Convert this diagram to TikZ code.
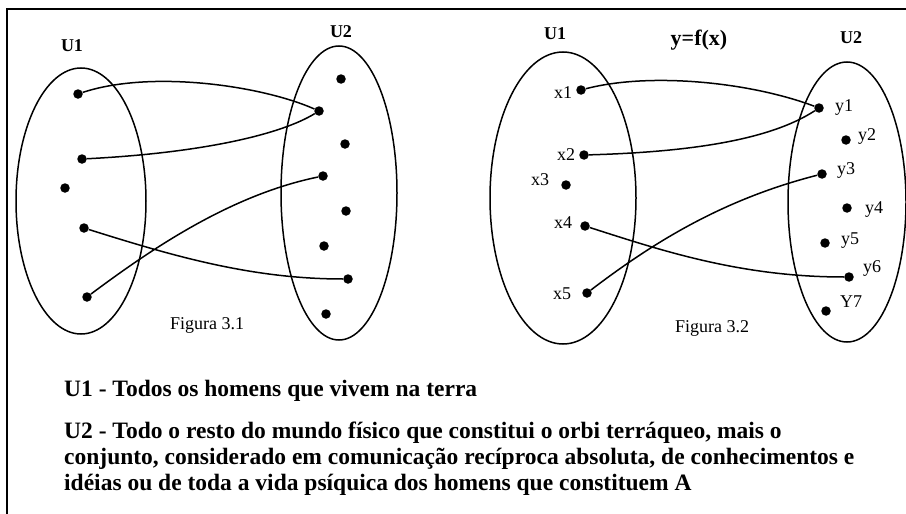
\documentclass[tikz,border=0pt]{standalone}
\usepackage{fontspec}
\setmainfont{Liberation Serif}
\usetikzlibrary{shapes.geometric}

\tikzset{
  dot/.style={circle,fill,inner sep=0pt,minimum size=9.5pt},
  set/.style={draw,ellipse,line width=1.5pt,inner sep=0pt},
  conn/.style={draw,line width=1.5pt},
  setname/.style={font=\fontsize{18}{20}\selectfont\bfseries},
  elem/.style={font=\fontsize{18}{20}\selectfont,inner sep=0pt},
  legend/.style={font=\fontsize{23.5}{26}\selectfont\bfseries,inner sep=0pt,align=left},
}

\begin{document}
\begin{tikzpicture}[x=1pt,y=-1pt]

  \useasboundingbox (0,0) rectangle (906,514);
  \draw [line width=2.2pt] (7,514) -- (7,9) -- (906,9);

  % Figura 3.1
  \node [setname] (A_name) at (72,46) {U1};
  \node [setname] (B_name) at (341,32) {U2};
  \node [set,minimum width=130pt,minimum height=266pt] (A) at (81,201) {};
  \node [set,minimum width=116pt,minimum height=294pt] (B) at (339,193) {};

  \node [dot] (A_1) at (78,94) {};
  \node [dot] (A_2) at (82,159) {};
  \node [dot] (A_3) at (65,188) {};
  \node [dot] (A_4) at (84,228) {};
  \node [dot] (A_5) at (87,297) {};

  \node [dot] (B_1) at (341,79) {};
  \node [dot] (B_2) at (319,111) {};
  \node [dot] (B_3) at (345,144) {};
  \node [dot] (B_4) at (323,176) {};
  \node [dot] (B_5) at (346,211) {};
  \node [dot] (B_6) at (324,246) {};
  \node [dot] (B_7) at (348,279) {};
  \node [dot] (B_8) at (326,314) {};

  \node [elem] (A_fig) at (207,325) {Figura 3.1};

  \path [conn]
    (A_1) .. controls (150,70) and (260,85) .. (B_2)
    (A_2) .. controls (200,153) and (280,135) .. (B_2)
    (A_5) .. controls (150,250) and (230,195) .. (B_4)
    (A_4) .. controls (170,255) and (250,279) .. (B_7);

  % Figura 3.2
  \node [setname] (X_name) at (555,34) {U1};
  \node [setname,font=\fontsize{22}{24}\selectfont\bfseries] (f_name) at (699,40) {y=f(x)};
  \node [setname] (Y_name) at (851,38) {U2};
  \node [set,minimum width=146pt,minimum height=292pt] (X) at (563,198) {};
  \node [set,minimum width=118pt,minimum height=280pt] (Y) at (847,202) {};

  \node [dot] (x1) at (581,90) {};
  \node [dot] (x2) at (584,155) {};
  \node [dot] (x3) at (566,185) {};
  \node [dot] (x4) at (585,226) {};
  \node [dot] (x5) at (587,293) {};
  \node [elem] (x1_lbl) at (563,93) {x1};
  \node [elem] (x2_lbl) at (566,155) {x2};
  \node [elem] (x3_lbl) at (540,180) {x3};
  \node [elem] (x4_lbl) at (563,223) {x4};
  \node [elem] (x5_lbl) at (562,294) {x5};

  \node [dot] (y1) at (819,108) {};
  \node [dot] (y2) at (846,140) {};
  \node [dot] (y3) at (822,174) {};
  \node [dot] (y4) at (847,208) {};
  \node [dot] (y5) at (825,243) {};
  \node [dot] (y6) at (849,277) {};
  \node [dot] (y7) at (826,311) {};
  \node [elem] (y1_lbl) at (844,107) {y1};
  \node [elem] (y2_lbl) at (867,136) {y2};
  \node [elem] (y3_lbl) at (846,170) {y3};
  \node [elem] (y4_lbl) at (874,210) {y4};
  \node [elem] (y5_lbl) at (850,241) {y5};
  \node [elem] (y6_lbl) at (872,268) {y6};
  \node [elem] (y7_lbl) at (851,302) {Y7};

  \node [elem] (X_fig) at (712,328) {Figura 3.2};

  \path [conn]
    (x1) .. controls (650,72) and (750,82) .. (y1)
    (x2) .. controls (690,152) and (770,140) .. (y1)
    (x5) .. controls (650,245) and (720,200) .. (y3)
    (x4) .. controls (660,250) and (740,277) .. (y6);

  % legenda
  \node [legend,anchor=base west] (U1_text) at (64,396)
    {U1 - Todos os homens que vivem na terra};
  \node [legend,anchor=base west] (U2_text) at (64,490)
    {U2 - Todo o resto do mundo físico que constitui o orbi terráqueo, mais o\\
     conjunto, considerado em comunicação recíproca absoluta, de conhecimentos e\\
     idéias ou de toda a vida psíquica dos homens que constituem A};

\end{tikzpicture}
\end{document}
